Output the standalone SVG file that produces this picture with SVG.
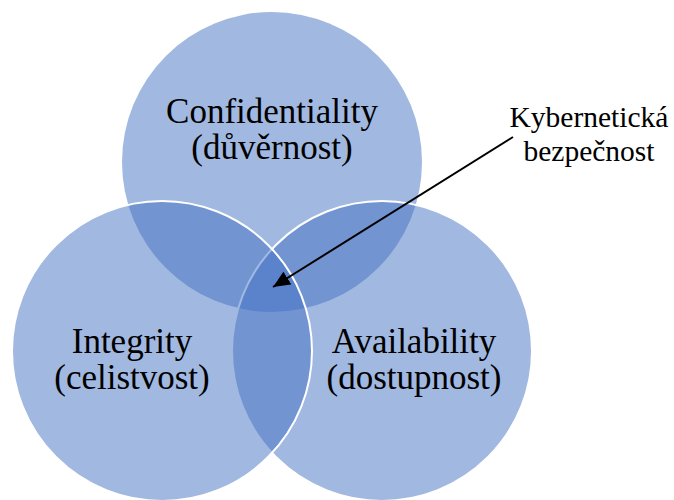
<svg xmlns="http://www.w3.org/2000/svg" width="674" height="500" viewBox="0 0 674 500">
  <style>
    .set { fill: #4472C4; fill-opacity: 0.5; }
    .outlined { stroke: #FFFFFF; stroke-width: 2; }
    text { font-family: "Liberation Serif", "Times New Roman", serif; fill: #000000; text-anchor: middle; }
    .label { font-size: 35px; }
    .callout { font-size: 29.5px; }
    .pointer { stroke: #000000; stroke-width: 2; fill: none; }
  </style>
  <defs>
    <marker id="arrowhead" markerUnits="userSpaceOnUse" markerWidth="18" markerHeight="16" refX="17" refY="7.5" orient="auto">
      <path d="M0,0 L17,7.5 L0,15 z" fill="#000000"/>
    </marker>
  </defs>

  <!-- three half-transparent sets; later circles sit on top so their white rims stay crisp -->
  <g id="confidentiality">
    <circle class="set" cx="272" cy="162" r="150"/>
    <text class="label" x="272" y="123">Confidentiality</text>
    <text class="label" x="272" y="159">(důvěrnost)</text>
  </g>

  <g id="availability">
    <circle class="set outlined" cx="382" cy="351" r="150"/>
    <text class="label" x="414" y="353">Availability</text>
    <text class="label" x="414" y="389">(dostupnost)</text>
  </g>

  <g id="integrity">
    <circle class="set outlined" cx="162" cy="351" r="150"/>
    <text class="label" x="132" y="353">Integrity</text>
    <text class="label" x="132" y="389">(celistvost)</text>
  </g>

  <g id="cyber-security">
    <text class="callout" x="589" y="127">Kybernetická</text>
    <text class="callout" x="589" y="161">bezpečnost</text>
  </g>

  <g id="connectors">
    <line class="pointer" x1="513" y1="137" x2="273" y2="287" marker-end="url(#arrowhead)"/>
  </g>
</svg>
